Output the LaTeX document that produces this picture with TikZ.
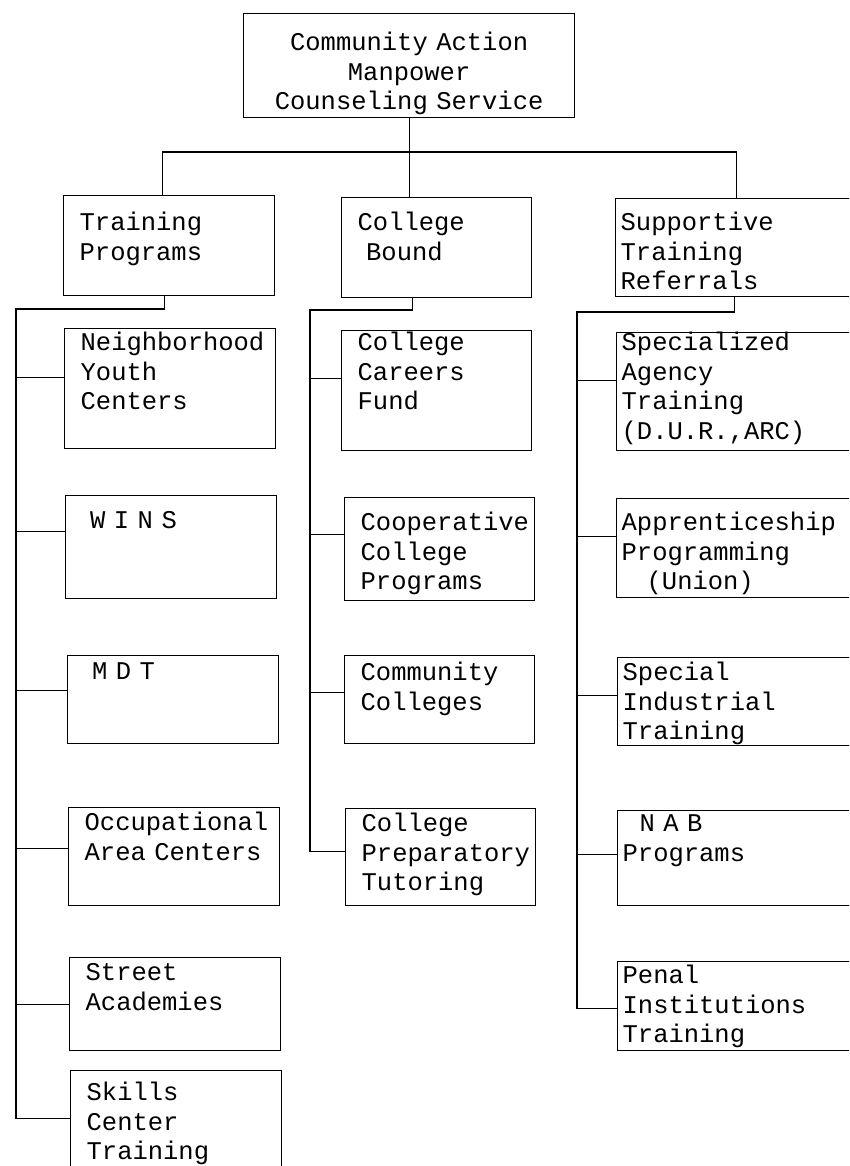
\documentclass[tikz,border=0pt]{standalone}
\usepackage{fontspec}
\setmainfont{Liberation Mono}[HyphenChar=None]
\usetikzlibrary{positioning}
\newcommand{\memofont}{\fontsize{25.5}{29.5}\selectfont
  \fontdimen2\font=15.3pt\fontdimen3\font=0pt\fontdimen4\font=0pt\relax}

\begin{document}
\begin{tikzpicture}[
  x=1pt, y=-1pt,
  line width=1.3pt,
  font=\memofont,
  box/.style={draw, anchor=north west, align=left, inner ysep=0pt},
  lbox/.style={box, inner xsep=16pt, text width=179pt},
  mbox/.style={box, inner xsep=16pt, text width=158pt},
  rbox/.style={box, inner xsep=5pt, text width=250pt}
]
\useasboundingbox (0,0) rectangle (849,1166);
\clip (0,0) rectangle (849,1166);

% Top
\node[box, align=center, inner xsep=15pt, text width=301pt, text height=37pt, text depth=67pt] (cams) at (243,13) {Community Action\\Manpower\\Counseling Service};

% Row 2
\node[lbox, text height=35pt, text depth=65pt] (train)  at (63,195)  {Training\\Programs};
\node[mbox, text height=33pt, text depth=67pt] (cbound) at (341,197) {College\\~Bound};
\node[rbox, text height=32pt, text depth=66pt] (supp)   at (615,198) {Supportive\\Training\\Referrals};

% Training programs
\node[lbox, text height=22pt, text depth=98pt]  (nyc)    at (64,328)  {Neighborhood\\Youth\\Centers};
\node[lbox, text height=33pt, text depth=70pt]  (wins)   at (65,495)  {~W I N S};
\node[lbox, text height=24pt, text depth=64pt]  (mdt)    at (67,655)  {~M D T};
\node[lbox, text height=23pt, text depth=75pt]  (occ)    at (68,807)  {Occupational\\Area~Centers};
\node[lbox, text height=23pt, text depth=70pt]  (street) at (69,957)  {Street\\Academies};
\node[lbox, text height=30pt, text depth=100pt] (skills) at (70,1070) {Skills\\Center\\Training};

% College bound
\node[mbox, text height=20pt, text depth=100pt] (ccf)  at (341,330) {College\\Careers\\Fund};
\node[mbox, text height=33pt, text depth=70pt]  (coop) at (344,497) {Cooperative\\College\\Programs};
\node[mbox, text height=25pt, text depth=63pt]  (ccol) at (344,655) {Community\\Colleges};
\node[mbox, text height=23pt, text depth=74pt]  (prep) at (345,808) {College\\Preparatory\\Tutoring};

% Supportive training referrals
\node[rbox, text height=18pt, text depth=100pt] (spec)  at (616,332) {Specialized\\Agency\\Training\\(D.U.R.,ARC)};
\node[rbox, text height=32pt, text depth=67pt]  (appr)  at (616,498) {Apprenticeship\\Programming\\\hspace*{25pt}(Union)};
\node[rbox, text height=23pt, text depth=65pt]  (sind)  at (617,657) {Special\\Industrial\\Training};
\node[rbox, text height=21pt, text depth=74pt]  (nab)   at (617,810) {~~N A B\\Programs};
\node[rbox, text height=22pt, text depth=67pt]  (penal) at (617,961) {Penal\\Institutions\\Training};

% Top connectors
\coordinate (bar) at (0,152);
\draw (cams.south) -- (cams.south |- cbound.north);
\draw ([xshift=-7pt]train.north) |- ([xshift=-9pt]supp.north |- bar) -- ([xshift=-9pt]supp.north);

% Branches
\coordinate (lt) at (16,309);
\coordinate (mt) at (310,310);
\coordinate (rt) at (577,312);
\draw ([xshift=-5pt]train.south) |- (lt) -- ([yshift=17pt]skills.west -| lt) -- ([yshift=17pt]skills.west);
\draw ([xshift=-24pt]cbound.south) |- (mt) -- ([yshift=6pt]prep.west -| mt) -- ([yshift=6pt]prep.west);
\draw ([xshift=-11pt]supp.south) |- (rt) -- ([yshift=-2pt]penal.west -| rt) -- ([yshift=-2pt]penal.west);

\foreach \b/\s in {nyc/11, wins/16, mdt/9, occ/8, street/0}
  \draw ([yshift=\s pt]\b.west) -- ([yshift=\s pt]\b.west -| lt);
\foreach \b/\s in {ccf/12, coop/15, ccol/7}
  \draw ([yshift=\s pt]\b.west) -- ([yshift=\s pt]\b.west -| mt);
\foreach \b/\s in {spec/11, appr/12, sind/6, nab/4}
  \draw ([yshift=\s pt]\b.west) -- ([yshift=\s pt]\b.west -| rt);

\end{tikzpicture}
\end{document}
